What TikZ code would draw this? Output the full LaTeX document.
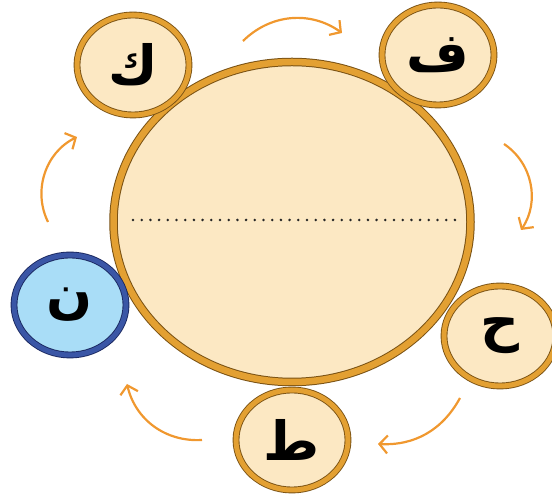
\documentclass[tikz,border=0pt]{standalone}
\usepackage{fontspec}
\usepackage{xcolor}
\usetikzlibrary{shapes.geometric,arrows.meta}
\TeXXeTstate=1
\newfontfamily\arabicfont[Script=Arabic]{DejaVu Sans}
\definecolor{discfill}{HTML}{FCE8C3}
\definecolor{ringgold}{HTML}{E3A032}
\definecolor{ringdark}{HTML}{7A5214}
\definecolor{bluefill}{HTML}{A9DDF7}
\definecolor{bluering}{HTML}{3A56A6}
\definecolor{bluedark}{HTML}{1A2860}
\definecolor{arrorange}{HTML}{F0982F}
\begin{document}
\begin{tikzpicture}[x=1pt, y=1pt,
  disc/.style={ellipse, inner sep=0pt, draw=ringdark, line width=0.9pt, double=ringgold,
    double distance=5pt, fill=discfill, minimum width=112pt, minimum height=100pt,
    font=\arabicfont\bfseries\fontsize{54}{54}\selectfont},
  bluedisc/.style={disc, draw=bluedark, double=bluering, fill=bluefill},
  turn/.style={-{Straight Barb[length=8pt,width=18pt]}, line width=2.2pt, draw=arrorange},
  dots/.style={line width=2.8pt, line cap=round, dash pattern=on 0pt off 8.7pt, draw=black!85}]
\useasboundingbox (0,0) rectangle (552,497);
% centre
\node[disc, minimum width=357pt, minimum height=320pt, line width=1pt, double distance=6.5pt] (big) at (292,275) {};
\coordinate (dl) at (133,277);
\coordinate (dr) at (457,277);
\draw[dots] (dl) -- (dr);
% letters round it
\node[disc] (kaf) at (133,432) {\beginR ك\endR};
\node[disc] (fa) at (438,442) {\beginR ف\endR};
\node[disc] (ha) at (500,161) {\beginR ح\endR};
\node[disc] (ta) at (292,57) {\beginR ط\endR};
\node[bluedisc] (nun) at (70,192) {\beginR ن\endR};
% arrows
\coordinate (a1) at (243,456); \coordinate (b1) at (342,464);
\coordinate (a2) at (504,353); \coordinate (b2) at (521,267);
\coordinate (a3) at (460,99);  \coordinate (b3) at (378,53);
\coordinate (a4) at (202,57);  \coordinate (b4) at (127,113);
\coordinate (a5) at (48,275);  \coordinate (b5) at (77,360);
\draw[turn] (a1) to[bend left=40] (b1);
\draw[turn] (a2) to[bend left=45] (b2);
\draw[turn] (a3) to[bend left=32] (b3);
\draw[turn] (a4) to[bend left=40] (b4);
\draw[turn] (a5) to[bend left=45] (b5);
\end{tikzpicture}
\end{document}
